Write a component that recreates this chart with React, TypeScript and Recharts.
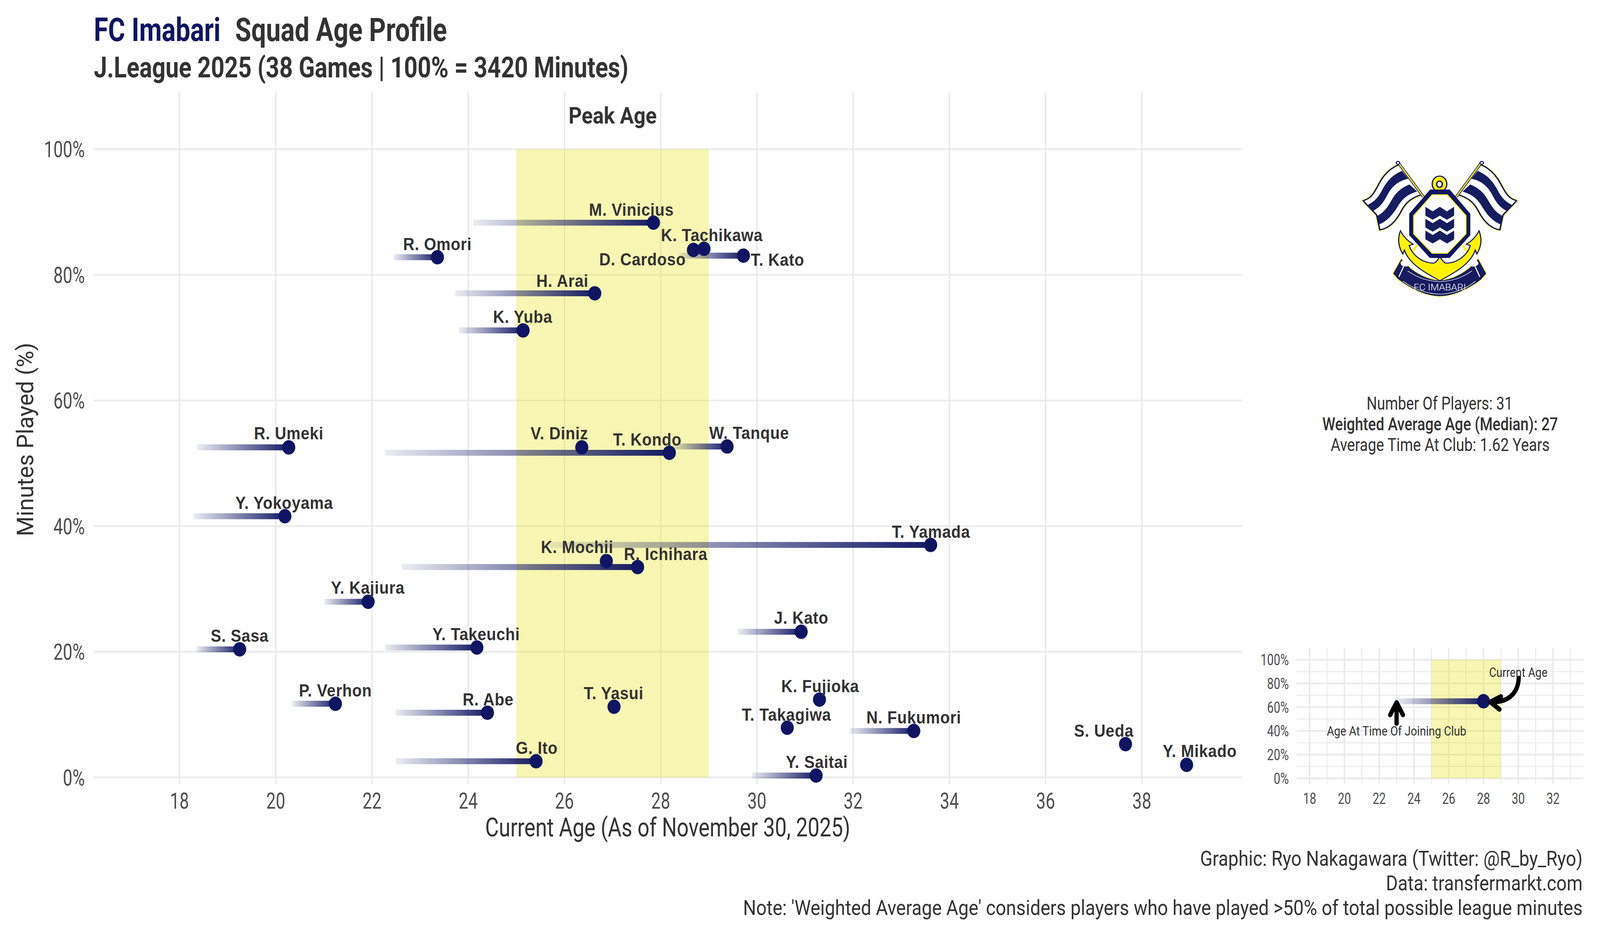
// FC Imabari squad age profile, drawn with Recharts scatter charts
import { ScatterChart, Scatter, XAxis, YAxis, CartesianGrid, ReferenceArea } from 'recharts';

const players = [
  'M. Vinicius', 'R. Omori', 'D. Cardoso', 'K. Tachikawa', 'T. Kato', 'H. Arai', 'K. Yuba', 'R. Umeki',
  'V. Diniz', 'T. Kondo', 'W. Tanque', 'Y. Yokoyama', 'K. Mochii', 'R. Ichihara', 'T. Yamada', 'Y. Kajiura',
  'S. Sasa', 'Y. Takeuchi', 'P. Verhon', 'R. Abe', 'T. Yasui', 'G. Ito', 'J. Kato', 'K. Fujioka',
  'T. Takagiwa', 'N. Fukumori', 'S. Ueda', 'Y. Mikado', 'Y. Saitai',
];
const currentAge = [
  27.85, 23.36, 28.68, 28.9, 29.72, 26.63, 25.14, 20.27,
  26.36, 28.18, 29.38, 20.19, 26.87, 27.52, 33.61, 21.92,
  19.25, 24.18, 21.24, 24.4, 27.03, 25.41, 30.92, 31.3,
  30.63, 33.26, 37.66, 38.93, 31.23,
];
const minutesPct = [
  88.3, 82.8, 83.96, 84.15, 83.05, 77.05, 71.15, 52.53,
  52.53, 51.67, 52.67, 41.57, 34.43, 33.48, 37.0, 27.95,
  20.38, 20.67, 11.72, 10.29, 11.24, 2.57, 23.18, 12.38,
  7.9, 7.39, 5.29, 1.99, 0.29,
];
// null = joined this season, no visible tail
const joinAge = [
  24.1, 22.45, null, null, 28.39, 23.73, 23.81, 18.37,
  null, 22.27, 28.25, 18.29, null, 22.62, 25.7, 21.01,
  18.35, 22.27, 20.34, 22.49, null, 22.5, 29.6, null,
  null, 31.93, null, null, 29.9,
];

const ageTicks = [18, 20, 22, 24, 26, 28, 30, 32, 34, 36, 38];
const pctTicks = [0, 20, 40, 60, 80, 100];
const insetAgeTicks = [18, 20, 22, 24, 26, 28, 30, 32];
const insetMinorAge = [19, 21, 23, 25, 27, 29, 31, 33];
const insetMinorPct = [10, 30, 50, 70, 90];
const peakAge = [25, 29];
const insetPlayer = [{ age: 28, pct: 65, join: 23 }];
const insetNotes = [
  { age: 30, pct: 85.5, text: 'Current Age', width: 164 },
  { age: 23, pct: 36, text: 'Age At Time Of Joining Club', width: 393 },
];
const insetUpArrow = [{ age: 23, pct: 64 }];
const insetCurveArrow = [{ age: 28.39, pct: 64.4 }];

// label placement, pixels from each player's dot
const labelOffsets = [
  [-62, -18], [0, -18], [-143, 40], [22, -19], [96, 26], [-91, -17], [-1, -19], [0, -21],
  [-63, -21], [-62, -18], [62, -19], [-2, -19], [-82, -21], [79, -18], [1, -18], [-1, -21],
  [0, -19], [-2, -19], [0, -19], [2, -19], [-1, -19], [2, -19], [0, -20], [2, -19],
  [-2, -18], [0, -19], [-61, -19], [37, -20], [2, -19],
];

const rows = players.map((name, i) => ({
  name,
  age: currentAge[i],
  pct: minutesPct[i],
  join: joinAge[i],
  dx: labelOffsets[i][0],
  dy: labelOffsets[i][1],
}));

const NAVY = '#0F1563';
const INK = '#333333';
const TICK = '#4D4D4D';
const GRID = '#EBEBEB';
const CONDENSED = 0.82;
const ROBOTO = 'Roboto, sans-serif';
// the browser's screen stops at 4096px wide, so the 4500px layout is squeezed to fit it
const FIT_X = 4096 / 4500;

// Roboto Condensed is not installed: narrow plain Roboto down to the width each text has
const measure = document.createElement('canvas').getContext('2d') as CanvasRenderingContext2D;
function widthScale(text: string, size: number, weight: string | number, width: number) {
  measure.font = `${weight} ${size}px Roboto`;
  return width / measure.measureText(text).width;
}

function Dot({ cx, cy }: any) {
  return <circle cx={cx} cy={cy} r={18.4} fill={NAVY} />;
}

function PlayerLabel({ cx, cy, payload }: any) {
  return (
    <text
      x={cx + payload.dx}
      y={cy + payload.dy}
      textAnchor="middle"
      fontFamily="'Liberation Sans', Arial, sans-serif"
      fontWeight="bold"
      fontSize={44}
      letterSpacing={0.9}
      fill={INK}
    >
      {payload.name}
    </text>
  );
}

function XTick({ x, y, payload, size, offset }: any) {
  return (
    <text
      transform={`translate(${x} ${y + offset}) scale(${CONDENSED} 1)`}
      textAnchor="middle"
      fontFamily={ROBOTO}
      fontSize={size}
      fill={TICK}
    >
      {payload.value}
    </text>
  );
}

function YTick({ x, y, payload, size, gap }: any) {
  return (
    <text
      transform={`translate(${x - gap} ${y + size * 0.355}) scale(${CONDENSED} 1)`}
      textAnchor="end"
      fontFamily={ROBOTO}
      fontSize={size}
      fill={TICK}
    >
      {payload.value}%
    </text>
  );
}

function Txt({ x, y, w, size, anchor = 'start', weight = 'normal', fill = INK, children }: any) {
  return (
    <text
      transform={`translate(${x} ${y}) scale(${widthScale(children, size, weight, w)} 1)`}
      textAnchor={anchor}
      fontFamily={ROBOTO}
      fontSize={size}
      fontWeight={weight}
      fill={fill}
    >
      {children}
    </text>
  );
}

function NoteText({ cx, cy, payload }: any) {
  return (
    <Txt x={cx} y={cy} w={payload.width} size={33} anchor="middle">
      {payload.text}
    </Txt>
  );
}

const arrowStyle = { fill: 'none', stroke: '#000', strokeWidth: 12, strokeLinecap: 'round', strokeLinejoin: 'round' } as const;

function StraightArrow({ cx, cy }: any) {
  return (
    <g transform={`translate(${cx} ${cy})`}>
      <path d="M0 54 L0 2 M-18 32 L0 0 L18 32" {...arrowStyle} />
    </g>
  );
}

function CurvedArrow({ cx, cy }: any) {
  return (
    <g transform={`translate(${cx} ${cy})`}>
      <path d="M80 -61 C78 -22 50 2 2 0 M30 -14 L0 0 L26 19" {...arrowStyle} />
    </g>
  );
}

function Crest() {
  const flagEdge =
    'M530 212 C470 240 430 290 400 360 C370 430 350 475 300 490 L322 520 L385 600 L405 715 C470 700 510 640 540 570 C565 510 600 470 665 445 Z';
  const flag = (
    <g>
      <path d={flagEdge} fill="#fff" stroke="#FFF200" strokeWidth={16} strokeLinejoin="round" />
      <path d={flagEdge} fill="#fff" stroke={NAVY} strokeWidth={9} strokeLinejoin="round" />
      <path d="M545 262 C470 300 440 360 410 430 C385 480 365 500 330 522 L360 570 C410 540 430 500 460 430 C490 370 530 335 584 322 Z" fill="#161C60" />
      <path d="M592 366 C530 395 500 440 475 495 C450 550 425 585 385 610 L403 672 C460 640 490 590 520 530 C550 470 585 440 640 420 Z" fill="#161C60" />
      <path d="M525 205 L680 462" stroke={NAVY} strokeWidth={18} />
      <path d="M525 205 L680 462" stroke="#FFF200" strokeWidth={9} />
      <circle cx={519} cy={200} r={11} fill="#fff" stroke={NAVY} strokeWidth={7} />
    </g>
  );
  return (
    <g transform="translate(3700 350) scale(0.4464 0.3333)">
      <path
        d="M540 935 L487 1050 L520 1095 C600 1170 700 1225 783 1225 C866 1225 966 1170 1045 1095 L1077 1050 L1025 935 L965 1010 C900 1070 850 1090 800 1100 L765 1100 C715 1090 665 1070 600 1010 Z"
        fill="#161C60"
        stroke="#FFF200"
        strokeWidth={4}
      />
      <path d="M580 1030 C640 1080 710 1110 783 1112 C856 1110 926 1080 985 1030" fill="none" stroke="#fff" strokeWidth={4} />
      <path d="M550 1108 C620 1170 700 1205 783 1208 C866 1205 946 1170 1008 1108" fill="none" stroke="#fff" strokeWidth={4} />
      <ellipse cx={568} cy={970} rx={32} ry={26} fill="#fff" />
      <ellipse cx={994} cy={970} rx={32} ry={26} fill="#fff" />
      <path d="M555 995 L525 1075 M1005 995 L1035 1075" stroke="#fff" strokeWidth={7} />
      <text
        x={783}
        y={1180}
        textAnchor="middle"
        fontFamily={ROBOTO}
        fontSize={72}
        fontWeight={300}
        fill="#fff"
        textLength={330}
        lengthAdjust="spacingAndGlyphs"
      >
        FC IMABARI
      </text>
      <path d="M640 830 L600 900 M925 830 L965 900" stroke="#FFF200" strokeWidth={14} />
      <path
        d="M535 722 C510 800 530 860 550 900 L560 870 C590 980 700 1050 783 1105 C866 1050 976 980 1006 870 L1016 900 C1036 860 1056 800 1030 722 C1010 770 985 800 950 825 L975 835 C960 900 900 970 820 970 C800 960 790 930 783 920 C776 930 766 960 746 970 C666 970 606 900 590 835 L615 825 C580 800 555 770 535 722 Z"
        fill="#FFF200"
        stroke={NAVY}
        strokeWidth={7}
      />
      {flag}
      <g transform="translate(1566 0) scale(-1 1)">{flag}</g>
      <ellipse cx={781} cy={362} rx={46} ry={60} fill="#FFF200" stroke={NAVY} strokeWidth={8} />
      <ellipse cx={781} cy={364} rx={18} ry={24} fill="#fff" stroke={NAVY} strokeWidth={9} />
      <polygon points="722,405 845,405 975,590 975,755 845,930 720,930 590,755 590,590" fill={NAVY} />
      <polygon points="735,445 830,445 948,605 948,745 830,895 735,895 618,745 618,605" fill="#fff" stroke="#FFF200" strokeWidth={6} />
      {[0, 91, 182].map((shift) => (
        <polygon
          key={shift}
          transform={`translate(0 ${shift})`}
          points="692,538 738,572 783,538 828,572 873,538 873,605 828,637 783,605 738,637 692,605"
          fill="#161C60"
        />
      ))}
    </g>
  );
}

function MainChart() {
  return (
    <div style={{ position: 'absolute', left: 0, top: 0 }}>
      <ScatterChart width={4500} height={2400} margin={{ top: 237, right: 1007, bottom: 293.3, left: 64 }}>
        <defs>
          <linearGradient id="tail" x1="0" y1="0" x2="1" y2="0">
            <stop offset="0%" stopColor={NAVY} stopOpacity={0.08} />
            <stop offset="100%" stopColor={NAVY} stopOpacity={0.98} />
          </linearGradient>
        </defs>
        <CartesianGrid stroke={GRID} strokeWidth={4.4} syncWithTicks />
        <XAxis
          type="number"
          dataKey="age"
          domain={[16.22, 40.08]}
          ticks={ageTicks}
          allowDataOverflow
          height={100}
          axisLine={false}
          tickLine={false}
          tickSize={0}
          tickMargin={0}
          tick={<XTick size={58} offset={62} />}
        />
        <YAxis
          type="number"
          dataKey="pct"
          domain={[-1.1, 109]}
          ticks={pctTicks}
          allowDataOverflow
          width={200}
          axisLine={false}
          tickLine={false}
          tickSize={0}
          tickMargin={0}
          tick={<YTick size={58} gap={25.5} />}
        />
        <ReferenceArea x1={peakAge[0]} x2={peakAge[1]} y1={0} y2={100} fill="#E5E200" fillOpacity={0.3} stroke="none" />
        {rows
          .filter((r) => r.join !== null)
          .map((r) => (
            <ReferenceArea
              key={r.name}
              x1={r.join as number}
              x2={r.age}
              y1={r.pct - 0.47}
              y2={r.pct + 0.47}
              fill="url(#tail)"
              fillOpacity={1}
              stroke="none"
            />
          ))}
        <Scatter data={rows} shape={<Dot />} isAnimationActive={false} />
        <Scatter data={rows} shape={<PlayerLabel />} isAnimationActive={false} />
      </ScatterChart>
    </div>
  );
}

function InsetChart() {
  return (
    <div style={{ position: 'absolute', left: 3500, top: 1600 }}>
      <ScatterChart width={1000} height={500} margin={{ top: 57.7, right: 46.5, bottom: 33.4, left: 46.7 }}>
        <defs>
          <linearGradient id="tailInset" x1="0" y1="0" x2="1" y2="0">
            <stop offset="0%" stopColor={NAVY} stopOpacity={0.08} />
            <stop offset="100%" stopColor={NAVY} stopOpacity={0.98} />
          </linearGradient>
        </defs>
        <CartesianGrid stroke={GRID} strokeWidth={2.5} verticalValues={insetMinorAge} horizontalValues={insetMinorPct} syncWithTicks />
        <CartesianGrid stroke={GRID} strokeWidth={4.4} syncWithTicks />
        <XAxis
          type="number"
          dataKey="age"
          domain={[17.25, 33.75]}
          ticks={insetAgeTicks}
          allowDataOverflow
          height={60}
          axisLine={false}
          tickLine={false}
          tickSize={0}
          tickMargin={0}
          tick={<XTick size={40} offset={50} />}
        />
        <YAxis
          type="number"
          dataKey="pct"
          domain={[-5, 110]}
          ticks={pctTicks}
          allowDataOverflow
          width={100}
          axisLine={false}
          tickLine={false}
          tickSize={0}
          tickMargin={0}
          tick={<YTick size={40} gap={22} />}
        />
        <ReferenceArea x1={peakAge[0]} x2={peakAge[1]} y1={0} y2={100} fill="#E5E200" fillOpacity={0.3} stroke="none" />
        {insetPlayer.map((p) => (
          <ReferenceArea
            key={p.join}
            x1={p.join}
            x2={p.age}
            y1={p.pct - 2.5}
            y2={p.pct + 2.5}
            fill="url(#tailInset)"
            fillOpacity={1}
            stroke="none"
          />
        ))}
        <Scatter data={insetPlayer} shape={<Dot />} isAnimationActive={false} />
        <Scatter data={insetNotes} shape={<NoteText />} isAnimationActive={false} />
        <Scatter data={insetUpArrow} shape={<StraightArrow />} isAnimationActive={false} />
        <Scatter data={insetCurveArrow} shape={<CurvedArrow />} isAnimationActive={false} />
      </ScatterChart>
    </div>
  );
}

export default function App() {
  return (
    <div style={{ position: 'relative', margin: '-8px 0 0 -8px', width: 4096, height: 2400, overflow: 'hidden', background: '#fff' }}>
      <div style={{ position: 'absolute', left: 0, top: 0, width: 4500, height: 2400, transform: `scaleX(${FIT_X})`, transformOrigin: '0 0' }}>
        <MainChart />
        <InsetChart />
        <svg width={4500} height={2400} style={{ position: 'absolute', left: 0, top: 0, pointerEvents: 'none' }}>
          <Txt x={264} y={105} w={356.5} size={83} weight="bold" fill={NAVY}>FC Imabari</Txt>
          <Txt x={661.5} y={105} w={595.5} size={83} weight="bold">Squad Age Profile</Txt>
          <Txt x={264} y={198} w={1503.7} size={75} weight="bold">J.League 2025 (38 Games | 100% = 3420 Minutes)</Txt>
          <Txt x={1723} y={316} w={248} size={60} anchor="middle" weight="bold">Peak Age</Txt>
          <Txt x={1878} y={2140} w={1027} size={66} anchor="middle">Current Age (As of November 30, 2025)</Txt>
          <g transform="translate(93 1124.5) rotate(-90)">
            <Txt x={0} y={0} w={495} size={66} anchor="middle">Minutes Played (%)</Txt>
          </g>
          <Crest />
          <Txt x={4049} y={1048} w={411} size={46} anchor="middle">Number Of Players: 31</Txt>
          <Txt x={4050.5} y={1101} w={663} size={46} anchor="middle" weight={500}>Weighted Average Age (Median): 27</Txt>
          <Txt x={4050.5} y={1154} w={617} size={46} anchor="middle">Average Time At Club: 1.62 Years</Txt>
          <Txt x={4451} y={2215} w={1076} size={54} anchor="end">Graphic: Ryo Nakagawara (Twitter: @R_by_Ryo)</Txt>
          <Txt x={4451} y={2278} w={553} size={54} anchor="end">Data: transfermarkt.com</Txt>
          <Txt x={4451} y={2341} w={2362} size={54} anchor="end">Note: 'Weighted Average Age' considers players who have played &gt;50% of total possible league minutes</Txt>
        </svg>
      </div>
    </div>
  );
}
